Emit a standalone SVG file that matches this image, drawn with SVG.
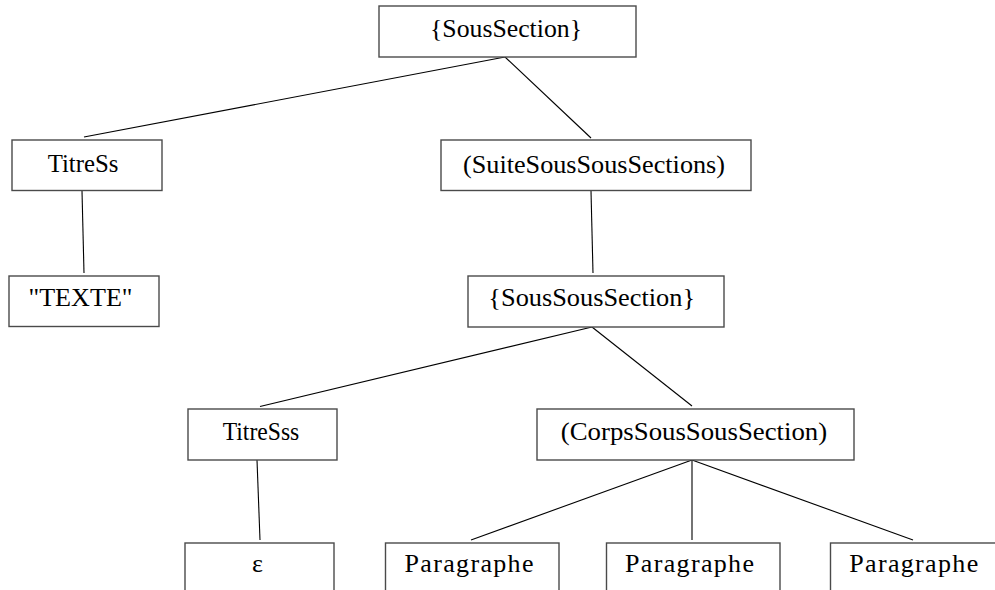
<svg xmlns="http://www.w3.org/2000/svg" width="995" height="590" viewBox="0 0 995 590">
<style>
.box{fill:#fff;stroke:#4a4a4a;stroke-width:1.4}
.lbl{font-family:"Liberation Serif","Times New Roman",serif;font-size:26px;fill:#000;text-anchor:middle}
.edge{stroke:#000;stroke-width:1.1;fill:none}
</style>
<rect width="995" height="590" fill="#fff"/>
<g id="connectors">
<line class="edge" x1="505" y1="57" x2="84" y2="137"/>
<line class="edge" x1="505" y1="57" x2="591" y2="138"/>
<line class="edge" x1="82" y1="191" x2="84" y2="273"/>
<line class="edge" x1="591" y1="191" x2="593" y2="273"/>
<line class="edge" x1="592" y1="327" x2="260" y2="406.5"/>
<line class="edge" x1="592" y1="327" x2="692" y2="406"/>
<line class="edge" x1="257" y1="460" x2="260" y2="540"/>
<line class="edge" x1="692" y1="460" x2="471" y2="540"/>
<line class="edge" x1="692" y1="460" x2="692" y2="540"/>
<line class="edge" x1="692" y1="460" x2="913" y2="540"/>
</g>
<g id="n-soussection">
<rect class="box" x="379" y="6" width="257" height="51"/>
<text class="lbl" x="506" y="36.5" textLength="152" lengthAdjust="spacingAndGlyphs">{SousSection}</text>
</g>
<g id="n-titress">
<rect class="box" x="12" y="140" width="150" height="50.5"/>
<text class="lbl" x="83" y="172.3" textLength="70.7" lengthAdjust="spacingAndGlyphs">TitreSs</text>
</g>
<g id="n-suite">
<rect class="box" x="441" y="140" width="310" height="50.5"/>
<text class="lbl" x="594" y="172.7" textLength="262" lengthAdjust="spacingAndGlyphs">(SuiteSousSousSections)</text>
</g>
<g id="n-texte">
<rect class="box" x="9" y="276" width="150" height="50.5"/>
<text class="lbl" x="80.5" y="306" textLength="104" lengthAdjust="spacingAndGlyphs">"TEXTE"</text>
</g>
<g id="n-soussoussection">
<rect class="box" x="468" y="276" width="256" height="51"/>
<text class="lbl" x="591.7" y="305.5" textLength="206.7" lengthAdjust="spacingAndGlyphs">{SousSousSection}</text>
</g>
<g id="n-titresss">
<rect class="box" x="188" y="409" width="149" height="51"/>
<text class="lbl" x="261" y="439.5" textLength="76.6" lengthAdjust="spacingAndGlyphs">TitreSss</text>
</g>
<g id="n-corps">
<rect class="box" x="537" y="409" width="317" height="51"/>
<text class="lbl" x="694" y="440" textLength="266.3" lengthAdjust="spacingAndGlyphs">(CorpsSousSousSection)</text>
</g>
<g id="n-epsilon">
<rect class="box" x="185" y="543" width="149" height="60"/>
<text class="lbl" x="257.5" y="571.7">ε</text>
</g>
<g id="n-para1">
<rect class="box" x="385.5" y="543" width="173.5" height="60"/>
<text class="lbl" x="469" y="571.7" textLength="129" lengthAdjust="spacing">Paragraphe</text>
</g>
<g id="n-para2">
<rect class="box" x="606.5" y="543" width="173.5" height="60"/>
<text class="lbl" x="689.5" y="571.7" textLength="129" lengthAdjust="spacing">Paragraphe</text>
</g>
<g id="n-para3">
<rect class="box" x="830.5" y="543" width="180" height="60"/>
<text class="lbl" x="913.7" y="571.7" textLength="129" lengthAdjust="spacing">Paragraphe</text>
</g>
</svg>
